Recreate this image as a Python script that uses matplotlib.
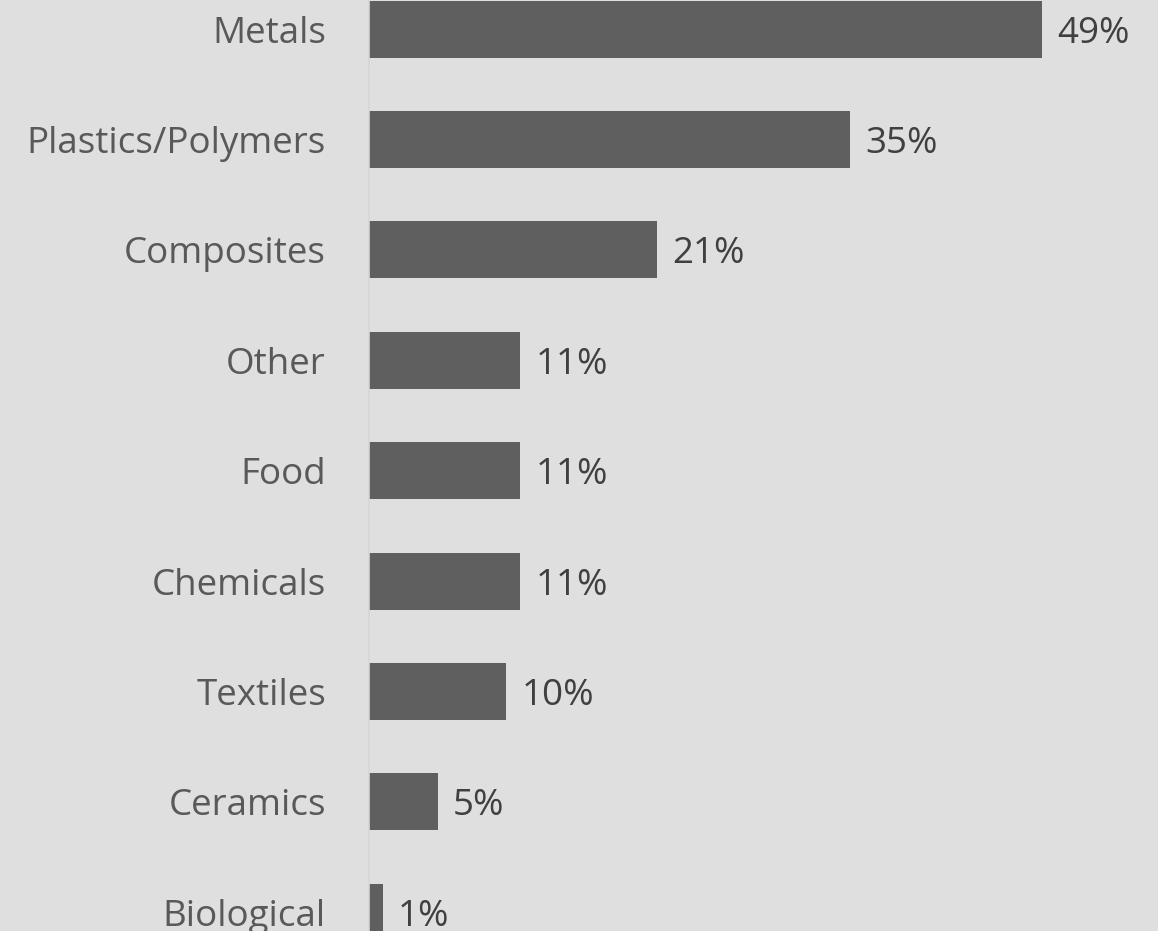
import matplotlib
matplotlib.use("Agg")
import matplotlib.pyplot as plt

categories = ["Metals", "Plastics/Polymers", "Composites", "Other", "Food",
              "Chemicals", "Textiles", "Ceramics", "Biological"]
values = [49, 35, 21, 11, 11, 11, 10, 5, 1]

plt.rcParams['font.family'] = ['Open Sans', 'DejaVu Sans']

bg = "#dfdfdf"
fig = plt.figure(figsize=(11.58, 9.31), dpi=100, facecolor=bg)
ax = fig.add_axes([369/1158, 0, 1 - 369/1158, 1], facecolor=bg)

pos = list(range(len(categories)))
ax.barh(pos, values, height=0.516, color="#5f5f5f", edgecolor="none")
ax.set_ylim(8.17, -0.264)
ax.set_xlim(0, 57.46)

for s in ["top", "right", "bottom"]:
    ax.spines[s].set_visible(False)
ax.spines["left"].set_color("#d6d6d6")
ax.spines["left"].set_linewidth(1.2)
ax.set_xticks([])
ax.set_yticks(pos)
ax.set_yticklabels(categories, fontsize=26.5, color="#595959")
ax.tick_params(axis="y", length=0, pad=31)

for p, v in zip(pos, values):
    ax.annotate(f"{v}%", xy=(v, p), xytext=(11, 0), textcoords="offset points",
                va="center_baseline", ha="left", fontsize=26.5, color="#404040")

fig.savefig("out.png", dpi=100, facecolor=bg)
